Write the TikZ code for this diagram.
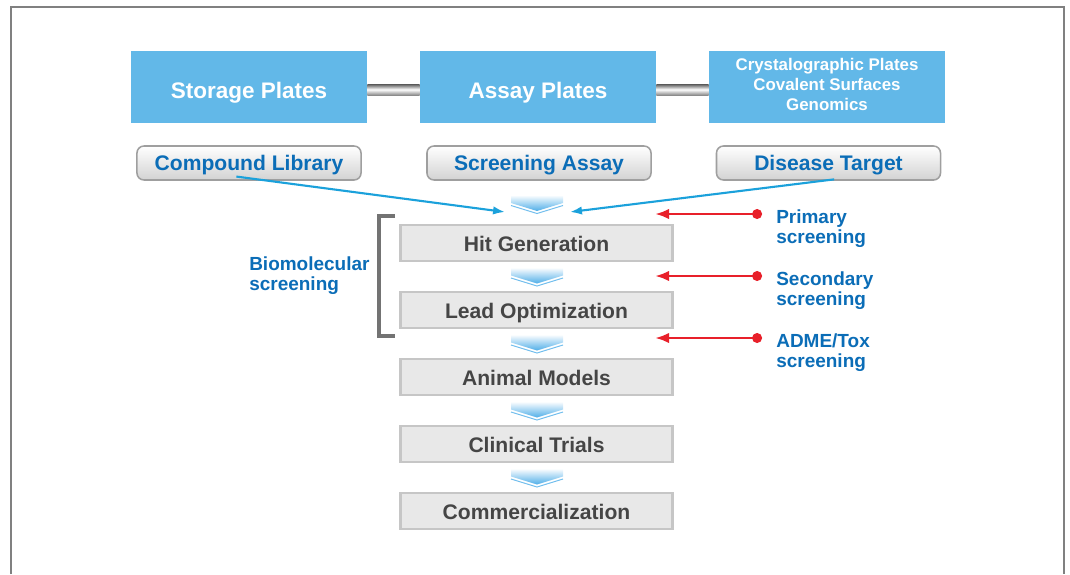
\documentclass[tikz,border=0pt]{standalone}
\usepackage{fontspec}
\setmainfont{Liberation Sans}
\usepackage{tikz}
\usetikzlibrary{calc,arrows.meta}
\definecolor{plateblue}{HTML}{62B8E8}
\definecolor{tagblue}{HTML}{0B6DB7}
\definecolor{linkblue}{HTML}{1BA1DB}
\definecolor{chevblue}{HTML}{4FAEE8}
\definecolor{markred}{HTML}{E8202A}
\definecolor{stepgray}{HTML}{E8E8E8}
\definecolor{stepline}{HTML}{C6C6C6}
\definecolor{steptext}{HTML}{454545}
\newcommand{\cw}{26}
\newcommand{\chevron}[1]{%
  \shade[top color=white, bottom color=chevblue] ($(#1)+(-\cw,-9)$) -- ($(#1)+(\cw,-9)$)
    -- ($(#1)+(\cw,-1)$) -- ($(#1)+(0,7)$) -- ($(#1)+(-\cw,-1)$) -- cycle;
  \draw[chevblue!80, line width=0.7pt] ($(#1)+(-\cw,1.5)$) -- ($(#1)+(0,9.5)$) -- ($(#1)+(\cw,1.5)$);}

\tikzset{
  plate/.style={fill=plateblue, text=white, minimum width=5.9cm, minimum height=1.8cm,
    align=center, inner sep=0pt},
  tag/.style={draw=gray!75, line width=1.1pt, rounded corners=5pt, top color=white,
    bottom color=gray!35, text=tagblue, minimum width=5.6cm, minimum height=0.85cm,
    font=\fontsize{15}{17}\selectfont\bfseries, inner sep=0pt, text height=13.8pt, text depth=3pt},
  stepbox/.style={fill=stepgray, draw=stepline, line width=1.6pt, text=steptext,
    minimum width=6.8cm, minimum height=0.9cm, font=\fontsize{15}{17}\selectfont\bfseries,
    inner sep=0pt, text height=14.4pt, text depth=3pt},
  note/.style={text=tagblue, align=left, anchor=west, inner sep=0pt,
    font=\fontsize{13.5}{14.2}\selectfont\bfseries},
  bar/.style={top color=gray!70!black, bottom color=gray!90, middle color=white},
  link/.style={linkblue, line width=1.5pt, -{Latex[length=8.5pt,width=6pt]}},
  redmark/.style={markred, line width=2pt, {Circle[length=7pt]}-{Latex[length=10pt,width=7.5pt]}}
}

\begin{document}
\begin{tikzpicture}[x=0.025cm, y=-0.025cm]
\useasboundingbox (0,0) rectangle (1070,574);
\draw[gray, line width=0.9pt] (11,574) -- (11,7) -- (1064,7) -- (1064,574);

% plates
\node[plate, font=\fontsize{16}{19}\selectfont\bfseries, text height=17.4pt, text depth=1pt]
  (storage) at (249,87) {Storage Plates};
\node[plate, font=\fontsize{16}{19}\selectfont\bfseries, text height=17.4pt, text depth=1pt]
  (assay) at (538,87) {Assay Plates};
\node[plate, font=\fontsize{12}{14.2}\selectfont\bfseries, text depth=4pt] (surf) at (827,87)
  {Crystalographic Plates\\Covalent Surfaces\\Genomics};
\shade[bar] ($(storage.east)+(0,-3)$) rectangle ($(assay.west)+(0,8)$);
\shade[bar] ($(assay.east)+(0,-3)$) rectangle ($(surf.west)+(0,8)$);

% inputs
\node[tag] (comp) at (249,163) {Compound Library};
\node[tag] (scr) at (539,163) {Screening Assay};
\node[tag] (dis) at (828.5,163) {Disease Target};

% pipeline
\node[stepbox] (hit) at (536.5,243) {Hit Generation};
\node[stepbox] (lead) at (536.5,310) {Lead Optimization};
\node[stepbox] (animal) at (536.5,377) {Animal Models};
\node[stepbox] (clin) at (536.5,444) {Clinical Trials};
\node[stepbox] (comm) at (536.5,511) {Commercialization};

\coordinate (c1) at (537,204);
\coordinate (c2) at ($(hit.south)!0.5!(lead.north)+(0.5,0)$);
\coordinate (c3) at ($(lead.south)!0.5!(animal.north)+(0.5,0)$);
\coordinate (c4) at ($(animal.south)!0.5!(clin.north)+(0.5,0)$);
\coordinate (c5) at ($(clin.south)!0.5!(comm.north)+(0.5,0)$);
\foreach \c in {c1,c2,c3,c4,c5} {\chevron{\c}}

\coordinate (in1) at (505,212);
\coordinate (in2) at (570,212);
\draw[link] ([xshift=-9,yshift=3]comp.south) -- (in1);
\draw[link] ([xshift=4,yshift=1]dis.south) -- (in2);

% bracket
\draw[gray!90!black, line width=2.2pt] (395,216) -| (379,336) -- (395,336);
\node[note] (bio) at (249,276) {Biomolecular\\screening};

% screening levels
\node[note] (prim) at (776,229) {Primary\\screening};
\node[note] (sec) at (776,291) {Secondary\\screening};
\node[note] (adme) at (776,353) {ADME/Tox\\screening};
\coordinate (d1) at (762,214); \coordinate (t1) at (655,214);
\coordinate (d2) at (762,276); \coordinate (t2) at (655,276);
\coordinate (d3) at (762,338); \coordinate (t3) at (655,338);
\draw[redmark] (d1) -- (t1);
\draw[redmark] (d2) -- (t2);
\draw[redmark] (d3) -- (t3);
\end{tikzpicture}
\end{document}
